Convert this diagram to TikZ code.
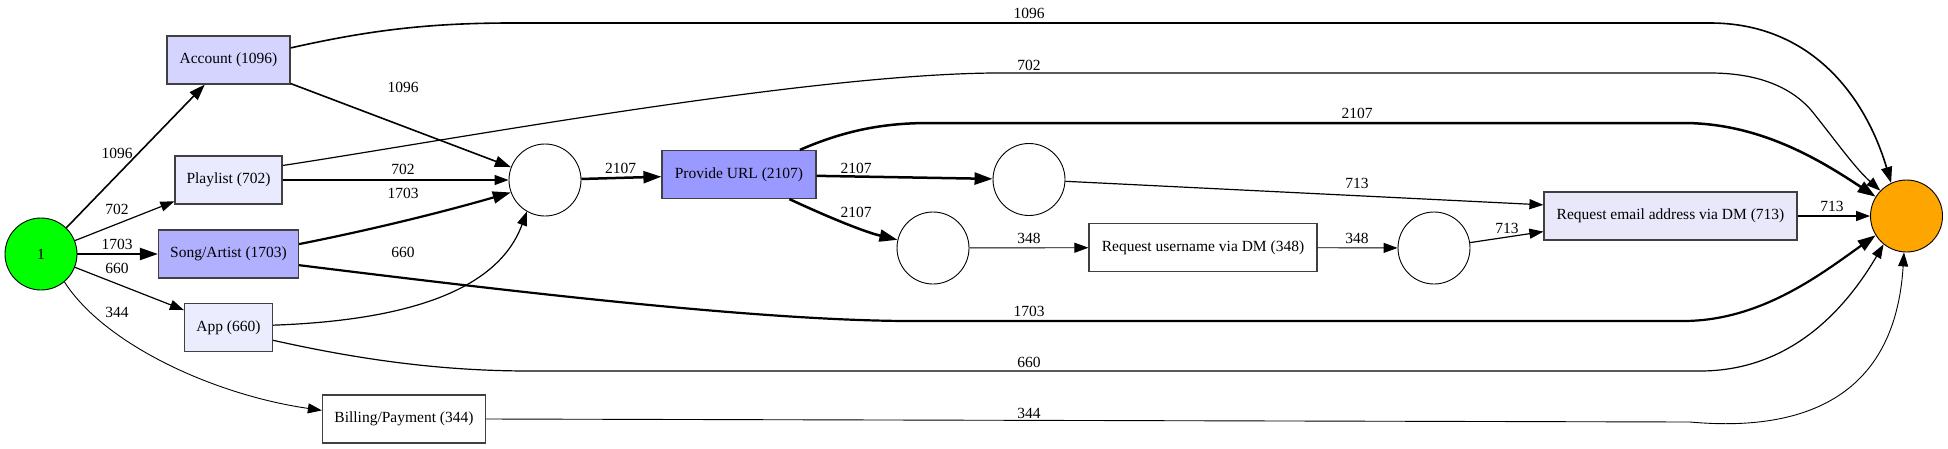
\documentclass[tikz,border=0pt]{standalone}
\usepackage{fontspec}
\setmainfont{Liberation Serif}
\usetikzlibrary{arrows.meta}
\definecolor{accfill}{RGB}{212,212,255}
\definecolor{plafill}{RGB}{234,234,255}
\definecolor{sonfill}{RGB}{176,176,255}
\definecolor{appfill}{RGB}{236,236,255}
\definecolor{urlfill}{RGB}{153,153,255}
\definecolor{emlfill}{RGB}{232,232,250}
\definecolor{srcgreen}{RGB}{0,255,0}
\definecolor{snkorange}{RGB}{255,165,0}

\begin{document}
\begin{tikzpicture}[x=1pt,y=-1pt,font=\fontsize{15.5}{18}\selectfont,
    act/.style={draw=black!75,line width=1.2pt,rectangle,minimum height=48pt,inner sep=0pt},
    hub/.style={draw,circle,minimum size=72pt,inner sep=0pt,line width=0.9pt},
    lbl/.style={inner sep=0pt},
    e340/.style={line width=0.9pt,-{Triangle[length=14pt,width=10pt]}},
    e700/.style={line width=1.2pt,-{Triangle[length=14pt,width=10pt]}},
    e1096/.style={line width=1.6pt,-{Triangle[length=16pt,width=11pt]}},
    e1703/.style={line width=2.2pt,-{Triangle[length=18pt,width=12pt]}},
    e2107/.style={line width=2.5pt,-{Triangle[length=18pt,width=12pt]}}]
    \useasboundingbox (0,0) rectangle (1948,448);
    \node[hub,fill=srcgreen] (src) at (41,254) {1};
    \node[hub,fill=snkorange] (snk) at (1906.5,216) {};
    \node[act,fill=accfill,minimum width=123pt] (acc) at (228.5,60) {Account (1096)};
    \node[act,fill=plafill,minimum width=107pt] (pla) at (228.5,180) {Playlist (702)};
    \node[act,fill=sonfill,minimum width=140pt] (son) at (228.5,254) {Song/Artist (1703)};
    \node[act,fill=appfill,minimum width=88pt] (app) at (228.5,327.5) {App (660)};
    \node[act,fill=white,minimum width=163pt] (bil) at (404,419) {Billing/Payment (344)};
    \node[act,fill=urlfill,minimum width=154pt] (url) at (739,174.5) {Provide URL (2107)};
    \node[act,fill=white,minimum width=228pt] (usr) at (1203,247.5) {Request username via DM (348)};
    \node[act,fill=emlfill,minimum width=253pt] (eml) at (1670.5,216) {Request email address via DM (713)};
    \node[hub] (c1) at (545,180) {};
    \node[hub] (c2) at (1029,179.5) {};
    \node[hub] (c3) at (933,248) {};
    \node[hub] (c4) at (1434,248) {};

    \draw[e1096] (src) -- (acc) node[lbl] at (117,153) {1096};
    \draw[e700] (src) -- (pla) node[lbl] at (117,209) {702};
    \draw[e1703] (src) -- (son) node[lbl] at (117,244) {1703};
    \draw[e700] (src) -- (app) node[lbl] at (117,268) {660};
    \draw[e340] (src.-50) .. controls (105,345) and (215,395) .. (bil.174) node[lbl] at (117,312) {344};

    \draw[e1096] (acc) -- (c1) node[lbl] at (403,87) {1096};
    \draw[e1096] (acc.11) .. controls (370,30) and (430,23) .. (512,23) -- (1710,23)
        .. controls (1810,23) and (1865,95) .. (snk.115) node[lbl] at (1029,13) {1096};
    \draw[e700] (pla) -- (c1) node[lbl] at (403,169) {702};
    \draw[e700] (pla.15) .. controls (450,140) and (800,75) .. (993,73) -- (1710,73)
        .. controls (1770,73) and (1800,95) .. (1815,115)
        .. controls (1835,140) and (1855,168) .. (snk.136) node[lbl] at (1029,65) {702};
    \draw[e1703] (son.8) .. controls (380,228) and (450,210) .. (c1.200) node[lbl] at (403,193) {1703};
    \draw[e1703] (son.-9) .. controls (500,290) and (750,320) .. (905,321) -- (1683,321)
        .. controls (1760,321) and (1820,275) .. (snk.212) node[lbl] at (1029,311) {1703};
    \draw[e700] (app.3) .. controls (420,320) and (500,285) .. (c1.240) node[lbl] at (403,252) {660};
    \draw[e700] (app.-16) .. controls (370,362) and (450,371) .. (530,371) -- (1700,371)
        .. controls (1790,371) and (1845,310) .. (snk.231) node[lbl] at (1029,362) {660};
    \draw[e340] (bil.east) -- (1690,422) .. controls (1800,432) and (1895,400) .. (snk.266) node[lbl] at (1029,413) {344};

    \draw[e2107] (c1) -- (url) node[lbl] at (620.5,168) {2107};
    \draw[e2107] (url) -- (c2) node[lbl] at (856,168) {2107};
    \draw[e2107] (url.-26) .. controls (830,218) and (865,232) .. (c3.167) node[lbl] at (856,212) {2107};
    \draw[e2107] (url.22) .. controls (850,128) and (890,123) .. (930,123) -- (1683,123)
        .. controls (1760,123) and (1820,160) .. (snk.148) node[lbl] at (1357,113) {2107};
    \draw[e700] (c2) -- (eml.175) node[lbl] at (1357,183) {713};
    \draw[e340] (c3) -- (usr) node[lbl] at (1029,238) {348};
    \draw[e340] (usr) -- (c4) node[lbl] at (1357,238) {348};
    \draw[e700] (c4) -- (eml.187) node[lbl] at (1507,228) {713};
    \draw[e700] (eml) -- (snk) node[lbl] at (1832,206) {713};
\end{tikzpicture}
\end{document}
